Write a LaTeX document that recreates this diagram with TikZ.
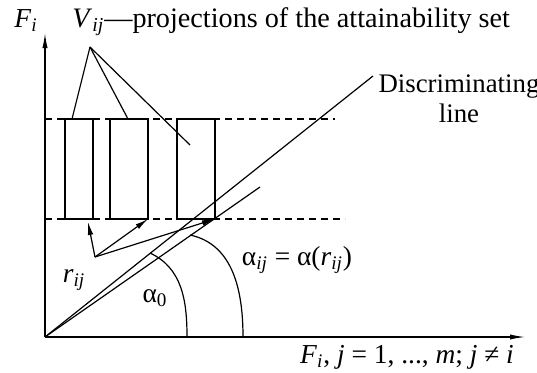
\documentclass[tikz,border=0pt]{standalone}
\usepackage{fontspec}
\setmainfont{Liberation Serif}
\usetikzlibrary{arrows.meta}
\newcommand{\var}[1]{\textit{#1}}
\newcommand{\sub}[1]{\textsubscript{\textit{#1}}}
\begin{document}
\begin{tikzpicture}[x=0.5pt,y=-0.5pt,font=\fontsize{13.7}{15}\selectfont,
	linia/.style={line width=0.6pt},
	eix/.style={linia,-{Latex[length=7.5pt,width=2.6pt]}},
	fletxa/.style={linia,-{Latex[length=6.5pt,width=2.8pt]}},
	caixa/.style={line width=1.1pt},
	trencada/.style={linia,dash pattern=on 3.5pt off 2.5pt}]
	\useasboundingbox (0,0) rectangle (537,372);

	% Eixos
	\coordinate (O) at (45,337);
	\coordinate (Xf) at (525,337);
	\coordinate (Yf) at (45,33);
	\draw[eix] (O) -- (Xf);
	\draw[eix] (O) -- (Yf);
	\node[anchor=base,inner sep=0pt] (Fy) at (26,27) {\var{F}\sub{i}};
	\node[anchor=base,inner sep=0pt] (Fx) at (407,363) {\var{F}\sub{i}, \var{j} = 1, ..., \var{m}; \var{j} ≠ \var{i}};

	% Linies discontinues
	\coordinate (D1a) at (45,119);
	\coordinate (D1b) at (335,119);
	\coordinate (D2a) at (45,219);
	\coordinate (D2b) at (345,219);
	\draw[trencada] (D1a) -- (D1b);
	\draw[trencada] (D2a) -- (D2b);

	% Projeccions
	\foreach \n/\a/\b in {1/65/93,2/110/148,3/177/215} {
		\draw[caixa] (\a,119) rectangle (\b,219);
		\coordinate (C\n) at (\b,219);
	}

	% Etiqueta V_ij
	\node[anchor=base west,inner sep=0pt,font=\fontsize{14.1}{16}\selectfont] (V) at (72,27) {\var{V}\sub{ij}—projections of the attainability set};
	\coordinate (Vp) at (90,47);
	\coordinate (V1) at (72,119);
	\coordinate (V2) at (128,119);
	\coordinate (V3) at (190,145);
	\foreach \P in {V1,V2,V3} {
		\draw[linia] (Vp) -- (\P);
	}

	% Recta discriminant i recta r_ij
	\coordinate (Dl) at (373,76);
	\coordinate (Rl) at (260,187);
	\draw[linia] (O) -- (Dl);
	\draw[linia] (O) -- (Rl);
	\node[align=center,inner sep=0pt,font=\fontsize{13.4}{15}\selectfont] (Disc) at (459,99) {Discriminating\\line};

	% Fletxes r_ij
	\coordinate (R) at (95,257);
	\coordinate (A1) at (88,222);
	\draw[fletxa] (R) -- (A1);
	\draw[fletxa] (R) -- (C2);
	\draw[fletxa] (R) -- (C3);
	\node (r) at (74,280) {\var{r}\sub{ij}};

	% Angles
	\coordinate (P0) at (150,253);
	\coordinate (Q0) at (187,337);
	\coordinate (P1) at (190,235);
	\coordinate (Q1) at (243,337);
	\draw[linia] (P0) to[out=-25,in=90] (Q0);
	\draw[linia] (P1) to[out=-12,in=90] (Q1);
	\node (a0) at (155,298) {α\textsubscript{0}};
	\node (aij) at (297,260) {α\sub{ij} = α(\var{r}\sub{ij})};
\end{tikzpicture}
\end{document}
